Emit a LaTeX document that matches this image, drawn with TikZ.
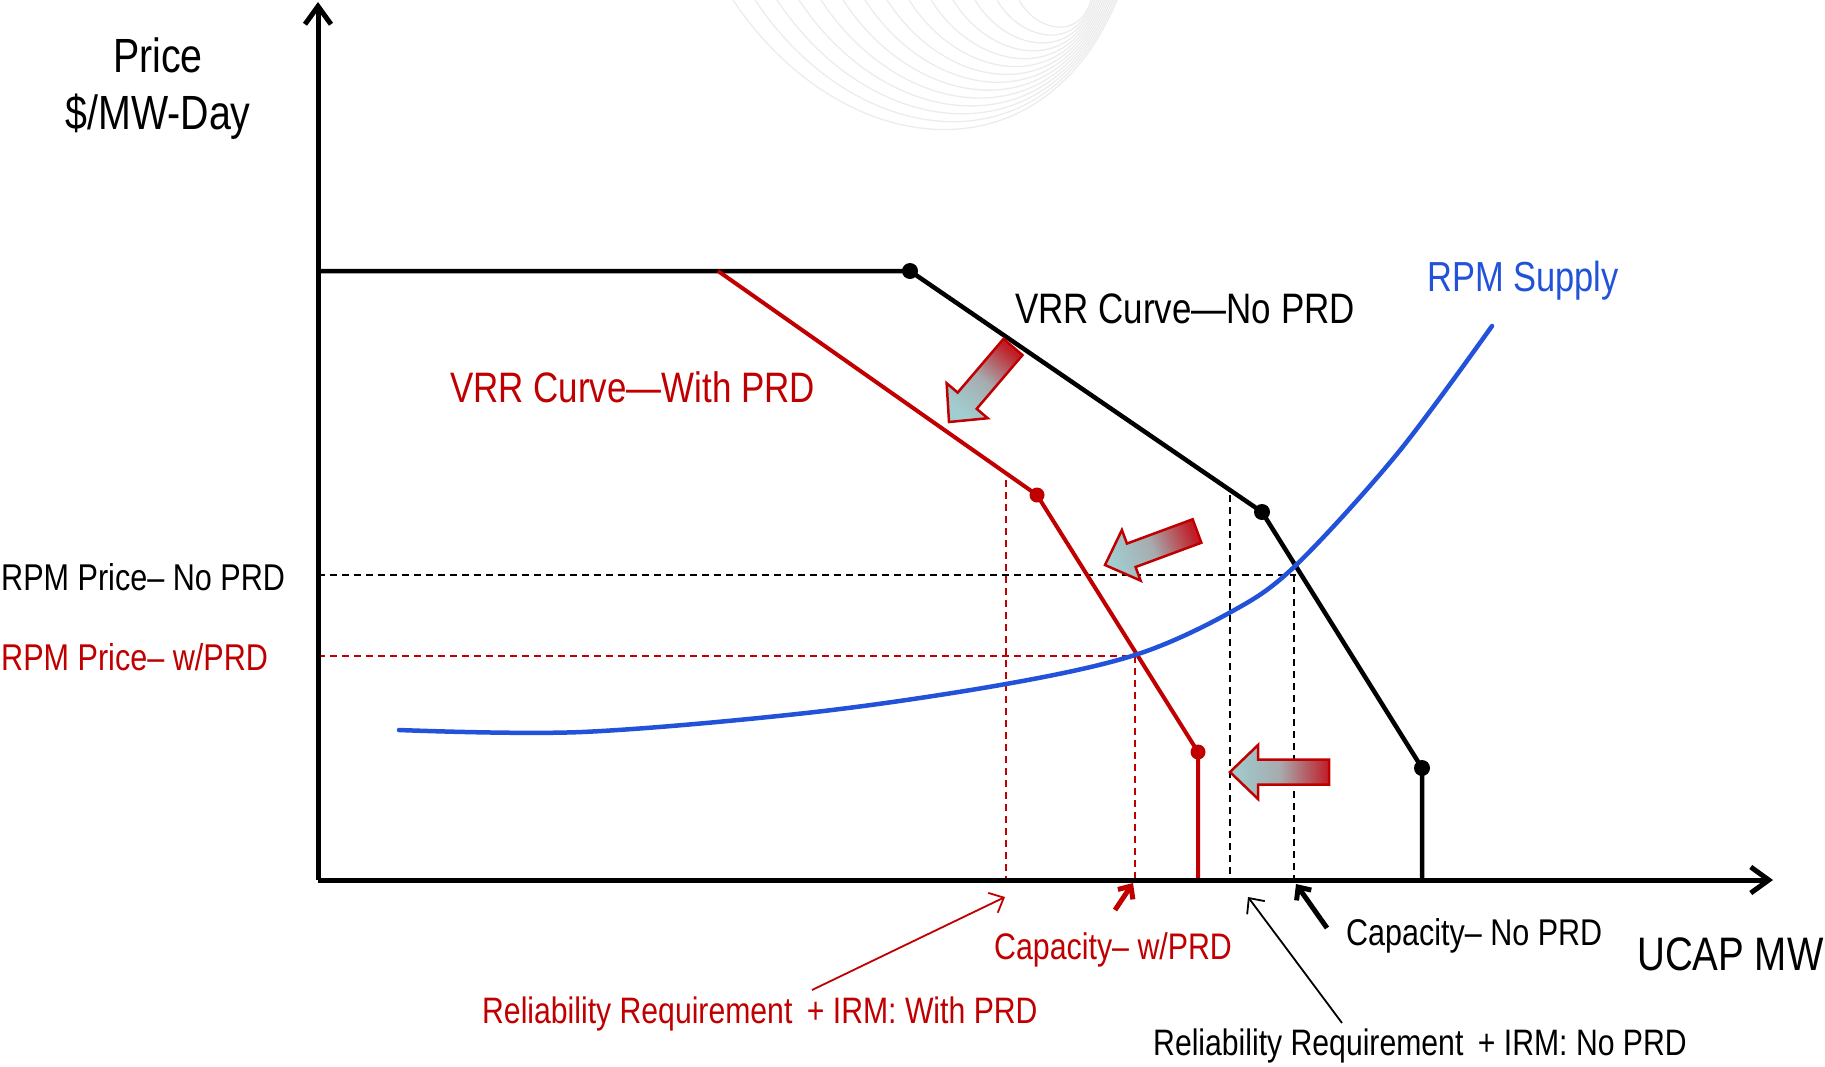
\documentclass[tikz,border=0pt]{standalone}
\usepackage{fontspec}
\setmainfont{Liberation Sans}[FakeStretch=0.82]
\usetikzlibrary{arrows.meta,calc}
\definecolor{cred}{RGB}{192,0,0}
\definecolor{cblue}{RGB}{33,82,217}
\definecolor{cteal}{RGB}{160,206,208}
\definecolor{cshade}{RGB}{192,30,40}
\newcommand{\fsz}[1]{\fontsize{#1}{#1}\selectfont}
\newcommand{\fatarrow}[4]{%
  \coordinate (#1h) at ($(#2)!28pt!(#3)$);
  \path[fatarr, shading angle=#4] (#2)
    -- ($(#1h)!27pt!90:(#2)$) -- ($(#1h)!12.5pt!90:(#2)$)
    -- ($(#3)!12.5pt!90:(#2)$) -- ($(#3)!12.5pt!-90:(#2)$)
    -- ($(#1h)!12.5pt!-90:(#2)$) -- ($(#1h)!27pt!-90:(#2)$) -- cycle;}
\begin{document}
\begin{tikzpicture}[x=1pt,y=-1pt,
  lbl/.style={inner sep=0pt, anchor=base west},
  axisline/.style={line width=5pt, -{Straight Barb[length=18pt,width=26pt]}},
  vrrK/.style={line width=4.5pt, line join=round, black},
  vrrR/.style={line width=4pt, line join=round, cred},
  dotK/.style={circle, fill=black, inner sep=0pt, minimum size=16pt},
  dotR/.style={circle, fill=cred, inner sep=0pt, minimum size=15pt},
  dashK/.style={line width=2pt, dash pattern=on 7pt off 5pt, black},
  dashR/.style={line width=2pt, dash pattern=on 7pt off 5pt, cred},
  supply/.style={line width=4.5pt, cblue, line cap=round},
  thinarr/.style={line width=1.8pt, -{Straight Barb[length=12pt,width=22pt]}},
  thickarr/.style={line width=5pt, -{Straight Barb[length=10pt,width=18pt]}},
  fatarr/.style={draw=cred, line width=2.5pt, line join=miter, left color=cteal, right color=cshade, middle color=cteal!80!cshade},
  bgline/.style={gray!15, line width=1.3pt}
]
\useasboundingbox (0,0) rectangle (1825,1066);

% faint background curves
\foreach \i in {0,...,13}{
  \draw[bgline] ({733+22*\i},0) .. controls ({840+15*\i},{160-10*\i}) and ({1040+3*\i},{185-11*\i}) .. ({1117-2*\i},0);
}

% coordinates
\coordinate (O) at (318,880);
\coordinate (ytop) at (318,2);
\coordinate (xend) at (1773,880);
\coordinate (k0) at (318,271);
\coordinate (k1) at (910,271);
\coordinate (k2) at (1262,512);
\coordinate (k3) at (1422,768);
\coordinate (k4) at (1422,880);
\coordinate (r0) at (718,271);
\coordinate (r1) at (1037,495);
\coordinate (r2) at (1198,752);
\coordinate (r3) at (1198,880);
\coordinate (pK) at (1296,575);
\coordinate (pR) at (1135,656);
\coordinate (yK) at (318,575);
\coordinate (yR) at (318,656);
\coordinate (vk1t) at (1230,495);
\coordinate (vk1b) at (1230,880);
\coordinate (vk2b) at (1294,880);
\coordinate (vk2t) at (1294,575);
\coordinate (vr1t) at (1006,480);
\coordinate (vr1b) at (1006,880);
\coordinate (vr2b) at (1135,880);

% dashed guides
\draw[dashK] (yK) -- (pK);
\draw[dashR] (yR) -- (pR);
\draw[dashK] (vk1t) -- (vk1b);
\draw[dashK] (vk2t) -- (vk2b);
\draw[dashR] (vr1t) -- (vr1b);
\draw[dashR] (pR) -- (vr2b);

% VRR curves
\draw[vrrK] (k0) -- (k1) -- (k2) -- (k3) -- (k4);
\draw[vrrR] (r0) -- (r1) -- (r2) -- (r3);
\node[dotK] (dk1) at (k1) {};
\node[dotK] (dk2) at (k2) {};
\node[dotK] (dk3) at (k3) {};
\node[dotR] (dr1) at (r1) {};
\node[dotR] (dr2) at (r2) {};

% supply curve
\draw[supply] plot[smooth, tension=0.55] coordinates {(399,730) (582,732) (815,712) (1006,684) (1135,655) (1229,613) (1294,567) (1397,454) (1492,326)};

% axes
\draw[axisline] (O) -- (ytop);
\draw[axisline] (O) -- (xend);

% fat shift arrows
\coordinate (fa1tip) at (949,422);
\coordinate (fa1tail) at (1013,347);
\coordinate (fa2tip) at (1105,565);
\coordinate (fa2tail) at (1197,531);
\coordinate (fa3tip) at (1230,772);
\coordinate (fa3tail) at (1329,772);
\fatarrow{fa1}{fa1tip}{fa1tail}{139.5}
\fatarrow{fa2}{fa2tip}{fa2tail}{110.3}
\fatarrow{fa3}{fa3tip}{fa3tail}{90}

% labels
\node[inner sep=0pt, anchor=base] (lprice) at (158,72) {\fsz{48}Price};
\node[inner sep=0pt, anchor=base] (lunit) at (158,129) {\fsz{48}\$/MW-Day};
\node[lbl] (lpk) at (1,590) {\fsz{37.3}RPM Price– No PRD};
\node[lbl, text=cred] (lpr) at (1,670) {\fsz{37.3}RPM Price– w/PRD};
\node[lbl] (lvk) at (1015,323) {\fsz{42.6}VRR Curve—No PRD};
\node[lbl, text=cred] (lvr) at (450,402) {\fsz{42.6}VRR Curve—With PRD};
\node[lbl, text=cblue] (lsup) at (1427,291) {\fsz{42}RPM Supply};
\node[lbl, text=cred] (lcr) at (994,959) {\fsz{37}Capacity– w/PRD};
\node[lbl] (lck) at (1346,945) {\fsz{37.2}Capacity– No PRD};
\node[lbl, text=cred] (lrr) at (482,1023) {\fsz{36.8}Reliability Requirement\, + IRM: With PRD};
\node[lbl] (lrk) at (1153,1055) {\fsz{36.8}Reliability Requirement\, + IRM: No PRD};
\node[lbl] (lucap) at (1637,970) {\fsz{47}UCAP MW};

% annotation arrows
\coordinate (arr1s) at (812,990);
\coordinate (arr1e) at (1005,897);
\coordinate (arr2s) at (1115,910);
\coordinate (arr2e) at (1133,883);
\coordinate (arr3s) at (1342,1023);
\coordinate (arr3e) at (1248,897);
\coordinate (arr4s) at (1327,928);
\coordinate (arr4e) at (1296,884);
\draw[thinarr, cred] (arr1s) -- (arr1e);
\draw[thickarr, cred] (arr2s) -- (arr2e);
\draw[thinarr, black] (arr3s) -- (arr3e);
\draw[thickarr, black] (arr4s) -- (arr4e);
\end{tikzpicture}
\end{document}
